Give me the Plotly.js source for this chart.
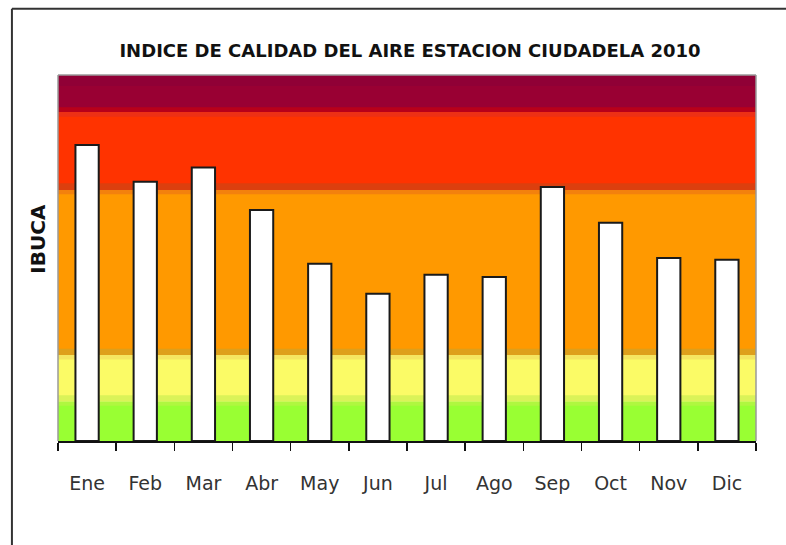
<!DOCTYPE html>
<html>
<head>
<meta charset="utf-8">
<script src="https://cdn.plot.ly/plotly-3.0.1.min.js"></script>
<style>html,body{margin:0;padding:0;background:#fff;}#chart{width:786px;height:545px;}</style>
</head>
<body>
<div id="chart"></div>
<script>
// Data
const months = ["Ene","Feb","Mar","Abr","May","Jun","Jul","Ago","Sep","Oct","Nov","Dic"];
const ibuca = [80.9, 70.8, 74.7, 63.1, 48.4, 40.2, 45.4, 44.8, 69.4, 59.6, 50.0, 49.5];
// Quality bands (lower bound, upper bound)
const bandLow  = [0, 10.8, 23.5, 68.6, 89.9];
const bandHigh = [10.8, 23.5, 68.6, 89.9, 100];
const bandColors = ["#99ff33", "#fbfb66", "#ff9900", "#ff3300", "#990033"];

const shapes = [];
for (let i = 0; i < bandLow.length; i++) {
  shapes.push({type:"rect", xref:"paper", yref:"y", x0:0, x1:1, y0:bandLow[i], y1:bandHigh[i],
    fillcolor:bandColors[i], line:{width:0}, layer:"below"});
}
// soft transitions between bands
function strip(y0, y1, color, op) {
  shapes.push({type:"rect", xref:"paper", yref:"y", x0:0, x1:1, y0:y0, y1:y1,
    fillcolor:color, opacity:op, line:{width:0}, layer:"below"});
}
strip(89.9, 91.2, "#b8001a", 1);
strip(88.6, 89.9, "#e8301a", 0.8);
strip(68.6, 70.4, "#d84010", 0.9);
strip(67.4, 68.6, "#f07a10", 0.8);
strip(23.5, 25.2, "#d8a020", 0.85);
strip(22.3, 23.5, "#f4e060", 0.8);
strip(10.8, 12.5, "#d6f256", 0.9);
strip(9.6, 10.8, "#b4f544", 0.8);
strip(97, 100, "#8a0038", 0.6);
// plot border (gray) left, top, right
shapes.push({type:"line", xref:"paper", yref:"paper", x0:0, x1:0, y0:0, y1:1, line:{color:"#9a9a9a", width:1.5}, layer:"below"});
shapes.push({type:"line", xref:"paper", yref:"paper", x0:0, x1:1, y0:1, y1:1, line:{color:"#9a9a9a", width:1.5}, layer:"below"});
shapes.push({type:"line", xref:"paper", yref:"paper", x0:1, x1:1, y0:0, y1:1, line:{color:"#9a9a9a", width:1.5}, layer:"below"});
// outer frame (left and top)
shapes.push({type:"line", xref:"paper", yref:"paper", x0:-0.066, x1:-0.066, y0:-0.3, y1:1.181, line:{color:"#333", width:2}});
shapes.push({type:"line", xref:"paper", yref:"paper", x0:-0.066, x1:1.06, y0:1.181, y1:1.181, line:{color:"#333", width:2}});

const trace = {
  type:"bar", x:months, y:ibuca, width:0.4,
  marker:{color:"#ffffff", line:{color:"#1a1a1a", width:2}},
  hoverinfo:"x+y"
};

const layout = {
  width:786, height:545,
  margin:{l:58, r:30, t:75, b:104, pad:0},
  paper_bgcolor:"#ffffff", plot_bgcolor:"#ffffff",
  showlegend:false,
  title:{text:"<b>INDICE DE CALIDAD DEL AIRE ESTACION CIUDADELA 2010</b>",
    font:{family:"DejaVu Sans", size:18, color:"#111"}, x:0.5216, xanchor:"center", y:0.907, yanchor:"middle"},
  xaxis:{type:"category", showline:true, linecolor:"#111", linewidth:2,
    ticks:"outside", tickson:"boundaries", ticklen:8, tickwidth:1.5, tickcolor:"#111",
    tickfont:{family:"DejaVu Sans", size:19, color:"#333"}, ticklabelstandoff:24,
    showgrid:false, zeroline:false, fixedrange:true},
  yaxis:{range:[0,100], showticklabels:false, ticks:"", showgrid:false, zeroline:false, showline:false},
  annotations:[{text:"<b>IBUCA</b>", xref:"paper", yref:"paper", x:-0.029, y:0.552,
    xanchor:"center", yanchor:"middle", textangle:-90, showarrow:false,
    font:{family:"DejaVu Sans", size:20, color:"#111"}}],
  shapes:shapes
};

Plotly.newPlot("chart", [trace], layout, {displayModeBar:false, staticPlot:true});
</script>
</body>
</html>
